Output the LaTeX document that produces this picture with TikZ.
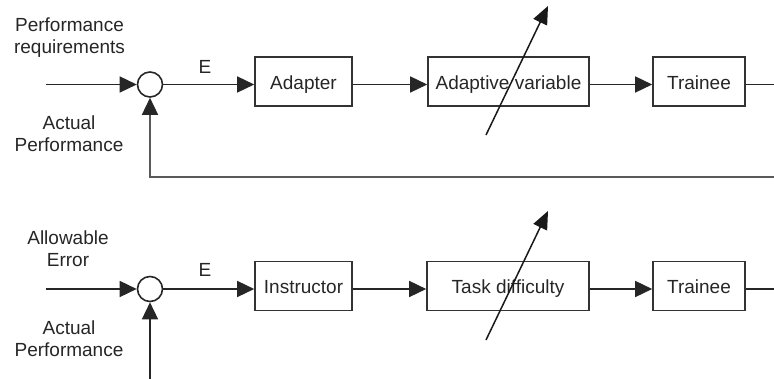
\documentclass[tikz,border=0pt]{standalone}
\usepackage{fontspec}
\setmainfont{Liberation Sans}
\usetikzlibrary{arrows.meta}
\begin{document}
\begin{tikzpicture}[x=1pt,y=-1pt,
  every node/.style={font=\fontsize{19}{22}\selectfont, text=black!85},
  blk/.style={draw=black!80, line width=1.6pt, minimum height=49pt, inner sep=0pt, text height=16pt, text depth=0pt},
  sumc/.style={draw=black!85, circle, line width=1.6pt, minimum size=25pt, inner sep=0pt},
  lbl/.style={align=center, inner sep=0pt},
  arr/.style={line width=1.5pt, draw=black!85, -{Triangle[length=17pt,width=16pt]}},
  ln/.style={line width=1.5pt, draw=black!85},
  fb/.style={line width=2.2pt, draw=black!65},
  tune/.style={line width=1.5pt, draw=black!90, -{Triangle[length=18pt,width=15pt]}}]
\useasboundingbox (0,0) rectangle (774,379);
% ---------- top loop ----------
\node[lbl] (req) at (69.5,38) {Performance\\requirements};
\node[lbl] (act1) at (69,134) {Actual\\Performance};
\node[sumc] (s1) at (150,84.5) {};
\coordinate (in1) at (46,84.5);
\node[blk, minimum width=97pt] (ad) at (303.5,81.5) {Adapter};
\node[blk, minimum width=161pt] (av) at (508.5,81.5) {Adaptive variable};
\node[blk, minimum width=92pt] (tr1) at (699,81.5) {Trainee};
\node[inner sep=0pt] (e1) at (205,67) {E};
\coordinate (out1) at (774,84.5);
\coordinate (fb1) at (774,177);
\coordinate (t1s) at (486,135);
\coordinate (t1e) at (548,6);
\draw[arr] (in1) -- (s1.west);
\draw[arr] (s1.east) -- (ad.west |- s1.east);
\draw[arr] (ad.east |- s1.east) -- (av.west |- s1.east);
\draw[arr] (av.east |- s1.east) -- (tr1.west |- s1.east);
\draw[ln] (tr1.east |- s1.east) -- (out1);
\draw[fb] (fb1) -| ([yshift=-12pt]s1.south);
\draw[arr] ([yshift=-12pt]s1.south) -- (s1.south);
\draw[tune] (t1s) -- (t1e);
% ---------- bottom loop ----------
\node[lbl] (allow) at (68,248.5) {Allowable\\Error};
\node[lbl] (act2) at (69,338.5) {Actual\\Performance};
\node[sumc] (s2) at (150,289) {};
\coordinate (in2) at (46,289);
\node[blk, minimum width=97pt] (ins) at (303.5,286) {Instructor};
\node[blk, minimum width=162pt] (td) at (508,286) {Task difficulty};
\node[blk, minimum width=92pt] (tr2) at (699,286) {Trainee};
\node[inner sep=0pt] (e2) at (205,270) {E};
\coordinate (out2) at (774,289);
\coordinate (fb2) at (150,379);
\coordinate (t2s) at (486,340);
\coordinate (t2e) at (548,211);
\draw[arr] (in2) -- (s2.west);
\draw[arr] (s2.east) -- (ins.west |- s2.east);
\draw[arr] (ins.east |- s2.east) -- (td.west |- s2.east);
\draw[arr] (td.east |- s2.east) -- (tr2.west |- s2.east);
\draw[ln] (tr2.east |- s2.east) -- (out2);
\draw[arr] (fb2) -- (s2.south);
\draw[tune] (t2s) -- (t2e);
\end{tikzpicture}
\end{document}
